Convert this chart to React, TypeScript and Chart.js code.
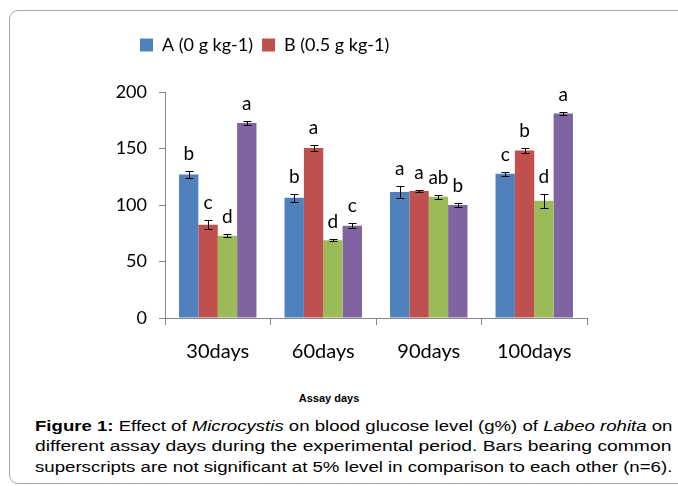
import React, { useEffect, useLayoutEffect, useRef } from 'react';
import { Chart, registerables } from 'chart.js';

Chart.register(...registerables);

const categories = ['30days', '60days', '90days', '100days'];
const seriesNames = ['A (0 g kg-1)', 'B (0.5 g kg-1)', 'C', 'D'];
const seriesColors = ['#4F81BD', '#C0504D', '#9BBB59', '#8064A2'];

const valuesA = [127, 106.5, 111.5, 127.6];
const valuesB = [82.5, 150.5, 112.5, 148.3];
const valuesC = [72.8, 68.8, 107.3, 103.8];
const valuesD = [172.5, 81.7, 100, 180.9];

const errorsA = [3.2, 3.5, 5, 2];
const errorsB = [4, 2.8, 1, 2.4];
const errorsC = [1.5, 1, 1.6, 6.2];
const errorsD = [1.5, 2, 1.5, 1];

const lettersA = ['b', 'b', 'a', 'c'];
const lettersB = ['c', 'a', 'a', 'b'];
const lettersC = ['d', 'd', 'ab', 'd'];
const lettersD = ['a', 'c', 'b', 'a'];

const yMin = 0;
const yMax = 200;
const yStep = 50;

const xTitle = 'Assay days';

const allValues = [valuesA, valuesB, valuesC, valuesD];
const allErrors = [errorsA, errorsB, errorsC, errorsD];
const allLetters = [lettersA, lettersB, lettersC, lettersD];

const CANVAS_W = 678;
const CANVAS_H = 380;
const CAPTION_W = 637;

export default function App() {
  const ref = useRef<HTMLCanvasElement>(null);
  const lineRefs = useRef<(HTMLSpanElement | null)[]>([]);

  useLayoutEffect(() => {
    lineRefs.current.forEach((el) => {
      if (!el) return;
      const w = el.offsetWidth;
      if (w > 0) el.style.transform = `scaleX(${CAPTION_W / w})`;
    });
  }, []);

  useEffect(() => {
    if (!ref.current) return;

    const errPlugin = {
      id: 'errLetters',
      afterDatasetsDraw(chart: any) {
        const ctx = chart.ctx;
        const ys = chart.scales.y;
        chart.data.datasets.forEach((ds: any, di: number) => {
          const meta = chart.getDatasetMeta(di);
          meta.data.forEach((bar: any, i: number) => {
            const v = ds.data[i];
            const e = allErrors[di][i];
            const x = Math.round(bar.x) + 0.5;
            const yTop = Math.round(ys.getPixelForValue(v + e)) + 0.5;
            const yBot = Math.round(ys.getPixelForValue(v - e)) + 0.5;
            ctx.save();
            ctx.strokeStyle = '#000';
            ctx.lineWidth = 1;
            ctx.beginPath();
            ctx.moveTo(x, yTop);
            ctx.lineTo(x, yBot);
            ctx.moveTo(x - 4, yTop);
            ctx.lineTo(x + 4, yTop);
            ctx.moveTo(x - 4, yBot);
            ctx.lineTo(x + 4, yBot);
            ctx.stroke();
            ctx.fillStyle = '#000';
            ctx.font = '19px Lato';
            ctx.textAlign = 'center';
            ctx.textBaseline = 'alphabetic';
            ctx.fillText(allLetters[di][i], bar.x, yTop - 12);
            ctx.restore();
          });
        });
      },
    };

    const legendFit = {
      id: 'legendFit',
      beforeLayout(chart: any) {
        const lg = chart.legend;
        if (lg && !lg._patchedFit) {
          const orig = lg.fit;
          lg.fit = function () {
            orig.call(this);
            this.height = 65;
          };
          lg._patchedFit = true;
        }
      },
      afterLayout(chart: any) {
        const lg = chart.legend;
        if (lg) lg.left = 131;
      },
    };

    const chart = new Chart(ref.current, {
      type: 'bar',
      data: {
        labels: categories,
        datasets: allValues.map((vals, i) => ({
          label: seriesNames[i],
          data: vals,
          backgroundColor: seriesColors[i],
          borderWidth: 0,
          categoryPercentage: 0.734,
          barPercentage: 1,
        })),
      },
      options: {
        responsive: false,
        animation: false,
        layout: { padding: { left: 0, right: 91, top: 27, bottom: 0 } },
        plugins: {
          legend: {
            position: 'top',
            align: 'start',
            labels: {
              boxWidth: 13,
              boxHeight: 13,
              padding: 9,
              color: '#000',
              font: { family: 'Lato', size: 18 },
              filter: (item: any) => item.datasetIndex < 2,
            },
          },
          tooltip: { enabled: false },
        },
        scales: {
          x: {
            grid: {
              drawOnChartArea: false,
              drawTicks: true,
              tickLength: 7,
              offset: true,
              color: '#868686',
            },
            border: { color: '#868686' },
            ticks: {
              color: '#000',
              font: { family: 'Lato', size: 20 },
              padding: 15,
            },
            afterFit: (s: any) => {
              s.height = CANVAS_H - 318;
            },
          },
          y: {
            min: yMin,
            max: yMax,
            ticks: {
              stepSize: yStep,
              color: '#000',
              font: { family: 'Lato', size: 18 },
              padding: 12,
            },
            grid: {
              drawOnChartArea: false,
              drawTicks: true,
              tickLength: 6,
              color: '#868686',
            },
            border: { color: '#868686' },
            afterFit: (s: any) => {
              s.width = 165;
            },
          },
        },
      },
      plugins: [errPlugin, legendFit],
    });

    return () => chart.destroy();
  }, []);

  const lineStyle: React.CSSProperties = {
    display: 'inline-block',
    whiteSpace: 'nowrap',
    transformOrigin: 'left top',
  };
  const lineBox: React.CSSProperties = {
    height: 20.3,
    lineHeight: '20.3px',
    whiteSpace: 'nowrap',
  };

  return (
    <div
      style={{
        position: 'fixed',
        left: 0,
        top: 0,
        width: CANVAS_W,
        height: 486,
        overflow: 'hidden',
        background: '#fff',
      }}
    >
      <div
        style={{
          position: 'absolute',
          left: 9,
          top: 10,
          width: 720,
          height: 474,
          border: '1.5px solid #a8a8a8',
          borderRadius: 9,
          boxSizing: 'border-box',
        }}
      />
      <canvas
        ref={ref}
        width={CANVAS_W}
        height={CANVAS_H}
        style={{ position: 'absolute', left: 0, top: 0, display: 'block' }}
      />
      <div
        style={{
          position: 'absolute',
          left: 229,
          top: 392,
          width: 200,
          textAlign: 'center',
          fontFamily: '"Liberation Sans", Arial, sans-serif',
          fontWeight: 'bold',
          fontSize: 11,
          lineHeight: '12px',
          color: '#000',
        }}
      >
        {xTitle}
      </div>
      <div
        style={{
          position: 'absolute',
          left: 35,
          top: 416,
          fontFamily: '"Liberation Sans", Arial, sans-serif',
          fontSize: 15.5,
          color: '#000',
        }}
      >
        <div style={lineBox}>
          <span style={lineStyle} ref={(el) => { lineRefs.current[0] = el; }}>
            <b>Figure 1:</b> Effect of <i>Microcystis</i> on blood glucose level (g%) of <i>Labeo rohita</i> on
          </span>
        </div>
        <div style={lineBox}>
          <span style={lineStyle} ref={(el) => { lineRefs.current[1] = el; }}>
            different assay days during the experimental period. Bars bearing common
          </span>
        </div>
        <div style={lineBox}>
          <span style={lineStyle} ref={(el) => { lineRefs.current[2] = el; }}>
            superscripts are not significant at 5% level in comparison to each other (n=6).
          </span>
        </div>
      </div>
    </div>
  );
}
